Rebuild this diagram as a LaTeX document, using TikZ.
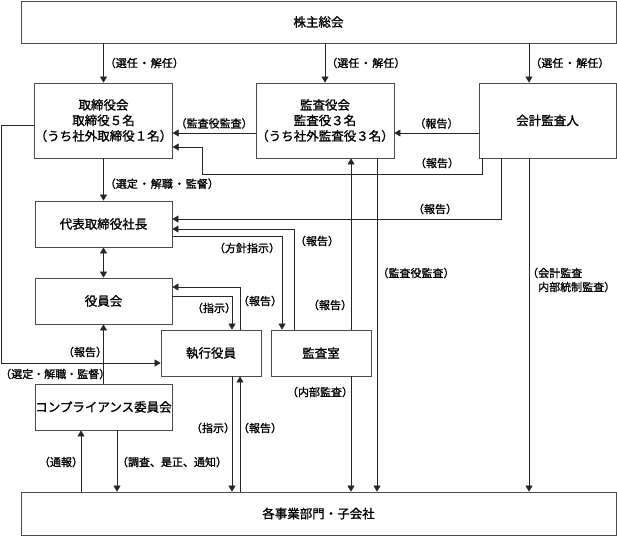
\documentclass[tikz,border=0pt]{standalone}
\usepackage{fontspec}
\setmainfont{Noto Sans CJK JP}[FakeBold=1.2]
\usetikzlibrary{arrows.meta}
\newcommand{\nkt}{\hspace{1pt}・\hspace{1pt}}
\begin{document}
\begin{tikzpicture}[x=1pt,y=-1pt,>={Triangle[length=6pt,width=7pt]},
    box/.style={draw=black!70,line width=0.8pt,fill=white,align=center,inner sep=0pt,
        font=\fontsize{12.5}{15.5}\selectfont},
    lbl/.style={inner sep=1pt,font=\fontsize{11}{14}\selectfont},
    line/.style={draw=black!85,line width=0.7pt}]
    \useasboundingbox (0,0) rectangle (617,536);
    % boxes
    \node[box,minimum width=595,minimum height=42] (soukai) at (318.5,22) {株主総会};
    \node[box,minimum width=137,minimum height=75] (torishimari) at (103.5,120.5)
        {取締役会\\取締役５名\\（うち社外取締役１名）};
    \node[box,minimum width=138,minimum height=75] (kansayaku) at (325,120.5)
        {監査役会\\監査役３名\\（うち社外監査役３名）};
    \node[box,minimum width=137,minimum height=75] (kaikei) at (547.5,120.5) {会計監査人};
    \node[box,minimum width=137,minimum height=46] (shacho) at (103.5,224) {代表取締役社長};
    \node[box,minimum width=137,minimum height=46] (yakuinkai) at (103.5,301) {役員会};
    \node[box,minimum width=100,minimum height=46] (shikko) at (211,353) {執行役員};
    \node[box,minimum width=100,minimum height=46] (kansashitsu) at (321,353) {監査室};
    \node[box,minimum width=137,minimum height=46] (compliance) at (103.5,407) {コンプライアンス委員会};
    \node[box,minimum width=595,minimum height=43] (jigyo) at (318.5,513.5) {各事業部門・子会社};
    % from the shareholders
    \draw[line,->] (soukai.south -| torishimari) -- (torishimari.north)
        node[lbl,midway,right] (l1) {（選任\nkt 解任）};
    \draw[line,->] (soukai.south -| kansayaku) -- (kansayaku.north)
        node[lbl,midway,right] (l2) {（選任\nkt 解任）};
    \draw[line,->] ([xshift=-18.5pt]kaikei.north |- soukai.south) -- ([xshift=-18.5pt]kaikei.north)
        node[lbl,midway,right] (l3) {（選任\nkt 解任）};
    % top row
    \draw[line,->] ([yshift=-12.5pt]kansayaku.west) -- ([yshift=-12.5pt]torishimari.east)
        node[lbl,midway,above=3pt] (l4) {（監査役監査）};
    \draw[line,->] ([yshift=-12.5pt]kaikei.west) -- ([yshift=-12.5pt]kansayaku.east)
        node[lbl,midway,above=3pt] (l5) {（報告）};
    \draw[line,->] ([xshift=-65.5pt]kaikei.south) |- (202,174) |- ([yshift=-26.5pt]torishimari.east);
    \node[lbl] (l6) at (437,163) {（報告）};
    \draw[line,->] ([yshift=-4.5pt]torishimari.west) -| (1,363) -- ([yshift=-10pt]shikko.west);
    \node[lbl,anchor=west,inner sep=0pt] (l7) at (0,374) {（選定・解職・監督）};
    % president
    \draw[line,->] (torishimari.south) -- (shacho.north)
        node[lbl,pos=0.6,right] (l8) {（選定\nkt 解職\nkt 監督）};
    \draw[line,<->] (shacho.south) -- (yakuinkai.north);
    \draw[line,->] ([xshift=-46.5pt]kaikei.south) |- ([yshift=5pt]shacho.east);
    \node[lbl] (l10) at (435,209) {（報告）};
    \draw[line,->] ([xshift=-27pt]kansashitsu.north) |- ([yshift=-5pt]shacho.east);
    \node[lbl] (l11) at (317,241) {（報告）};
    \draw[line,->] ([yshift=-12pt]shacho.east) -| ([xshift=-39pt]kansashitsu.north);
    \node[lbl] (l12) at (247,248) {（方針指示）};
    % board of officers
    \draw[line,->] ([yshift=5pt]yakuinkai.east) -| ([xshift=21pt]shikko.north);
    \node[lbl] (l13) at (214,308) {（指示）};
    \draw[line,->] ([xshift=29pt]shikko.north) |- ([yshift=14pt]yakuinkai.east);
    \node[lbl] (l14) at (260,301) {（報告）};
    \draw[line,->] (compliance.north) -- (yakuinkai.south);
    \node[lbl] (l15) at (85,352) {（報告）};
    % audit office
    \draw[line,->] ([xshift=30pt]kansashitsu.north) -- ([xshift=30pt]kansashitsu.north |- kansayaku.south);
    \node[lbl] (l21) at (330,305) {（報告）};
    \draw[line,->] ([xshift=30pt]kansashitsu.south) -- ([xshift=30pt]kansashitsu.south |- jigyo.north);
    \node[lbl] (l20) at (320,392) {（内部監査）};
    \draw[line,->] ([xshift=52pt]kansayaku.south) -- ([xshift=52pt]kansayaku.south |- jigyo.north);
    \node[lbl] (l22) at (416,273) {（監査役監査）};
    \draw[line,->] ([xshift=-18.5pt]kaikei.south) -- ([xshift=-18.5pt]kaikei.south |- jigyo.north);
    \node[lbl,anchor=west,align=left,inner sep=0pt] (l23) at (527,280) {（会計監査\\\phantom{（}内部統制監査）};
    % bottom
    \draw[line,->] ([xshift=-22.5pt]compliance.south |- jigyo.north) -- ([xshift=-22.5pt]compliance.south);
    \node[lbl] (l16) at (61,462) {（通報）};
    \draw[line,->] ([xshift=13.5pt]compliance.south) -- ([xshift=13.5pt]compliance.south |- jigyo.north);
    \node[lbl] (l17) at (172,462) {（調査、是正、通知）};
    \draw[line,->] ([xshift=21pt]shikko.south) -- ([xshift=21pt]shikko.south |- jigyo.north);
    \node[lbl] (l18) at (213,428) {（指示）};
    \draw[line,->] ([xshift=29pt]shikko.south |- jigyo.north) -- ([xshift=29pt]shikko.south);
    \node[lbl] (l19) at (260,428) {（報告）};
\end{tikzpicture}
\end{document}
